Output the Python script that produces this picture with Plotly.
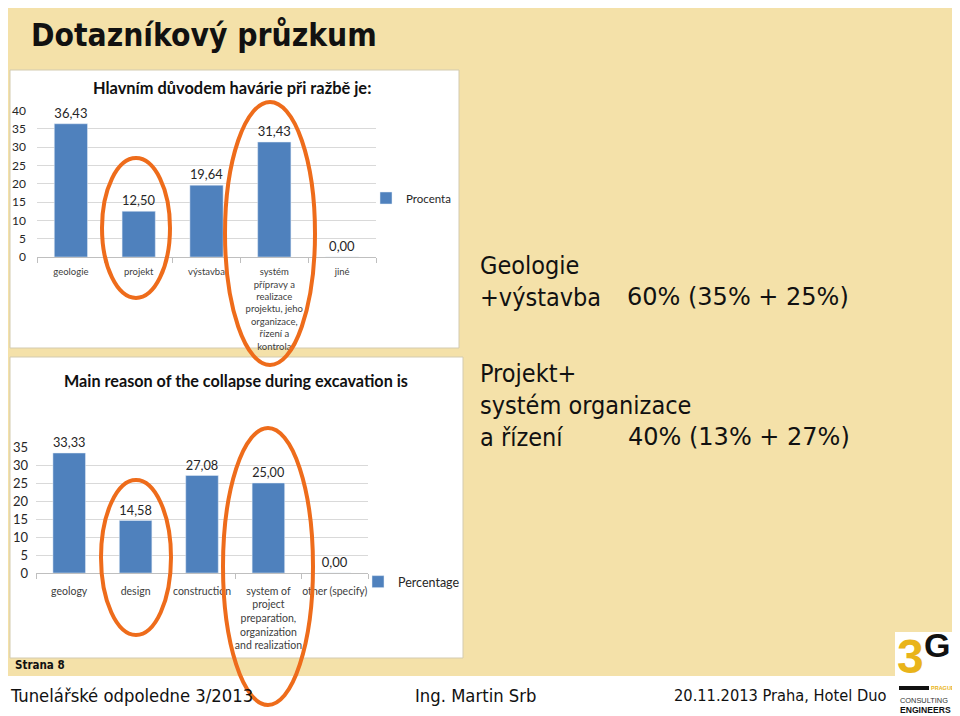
import plotly.graph_objects as go

# ---------------- data ----------------
cats_cz = ["geologie", "projekt", "výstavba",
           "systém<br>přípravy a<br>realizace<br>projektu, jeho<br>organizace,<br>řízení a<br>kontrola",
           "jiné"]
vals_cz = [36.43, 12.50, 19.64, 31.43, 0.00]
series_cz = "Procenta"
title_cz = "Hlavním důvodem havárie při ražbě je:"

cats_en = ["geology", "design", "construction",
           "system of<br>project<br>preparation,<br>organization<br>and realization",
           "other (specify)"]
vals_en = [33.33, 14.58, 27.08, 25.00, 0.00]
series_en = "Percentage"
title_en = "Main reason of the collapse during excavation is"

slide_title = "Dotazníkový průzkum"
notes = ["Geologie", "+výstavba", "60% (35% + 25%)",
         "Projekt+", "systém organizace", "a řízení", "40% (13% + 27%)"]
footer = ["Tunelářské odpoledne 3/2013", "Ing. Martin Srb", "20.11.2013 Praha, Hotel Duo"]

# ---------------- style ----------------
OFF = 8                      # page body margin of the browser
W, H = 960 - OFF, 716 - OFF  # figure fits exactly inside the window
BLUE = "#4F81BD"
BEIGE = "#F4E1A9"
ORANGE = "#EE6C1B"
GRID = "#D9D9D9"
CF = "Lato"
TAH = "DejaVu Sans Condensed, Liberation Sans"


def px(x):
    return (x - OFF) / W


def py(y):
    return 1 - (y - OFF) / H


fig = go.Figure()
fig.add_trace(go.Bar(x=cats_cz, y=vals_cz, name=series_cz, marker_color=BLUE,
                     texttemplate="%{y:.2f}", textposition="outside", cliponaxis=False,
                     textfont=dict(family=CF, size=13, color="#262626"),
                     xaxis="x", yaxis="y", legend="legend", showlegend=True))
fig.add_trace(go.Bar(x=cats_en, y=vals_en, name=series_en, marker_color=BLUE,
                     texttemplate="%{y:.2f}", textposition="outside", cliponaxis=False,
                     textfont=dict(family=CF, size=13, color="#262626"),
                     xaxis="x2", yaxis="y2", legend="legend2", showlegend=True))

xa = dict(type="category", showline=True, linecolor="#BFBFBF", ticks="outside",
          tickson="boundaries", ticklen=5, tickcolor="#BFBFBF", showgrid=False,
          tickangle=0, fixedrange=True, automargin=False)
ya = dict(showgrid=True, gridcolor=GRID, gridwidth=1, zeroline=False, showline=False,
          dtick=5, ticks="", fixedrange=True, automargin=False)

shapes = [
    dict(type="rect", xref="paper", yref="paper", x0=px(5), x1=px(955), y0=py(676), y1=py(0),
         fillcolor=BEIGE, line=dict(width=0), layer="below"),
    dict(type="rect", xref="paper", yref="paper", x0=px(10), x1=px(459), y0=py(348), y1=py(70),
         fillcolor="white", line=dict(color="#D3CBB0", width=1), layer="below"),
    dict(type="rect", xref="paper", yref="paper", x0=px(10), x1=px(463), y0=py(658), y1=py(357),
         fillcolor="white", line=dict(color="#D3CBB0", width=1), layer="below"),
    # logo box
    dict(type="rect", xref="paper", yref="paper", x0=px(895), x1=px(960), y0=py(716), y1=py(632),
         fillcolor="white", line=dict(width=0), layer="below"),
    dict(type="rect", xref="paper", yref="paper", x0=px(899), x1=px(929), y0=py(690), y1=py(686),
         fillcolor="#111111", line=dict(width=0), layer="above"),
    # highlight ellipses
    dict(type="circle", xref="paper", yref="paper", x0=px(102), x1=px(170), y0=py(298), y1=py(158),
         line=dict(color=ORANGE, width=4), layer="above"),
    dict(type="circle", xref="paper", yref="paper", x0=px(225), x1=px(315), y0=py(365), y1=py(102),
         line=dict(color=ORANGE, width=4), layer="above"),
    dict(type="circle", xref="paper", yref="paper", x0=px(101), x1=px(171), y0=py(635), y1=py(480),
         line=dict(color=ORANGE, width=4), layer="above"),
    dict(type="circle", xref="paper", yref="paper", x0=px(223), x1=px(313), y0=py(705), y1=py(428),
         line=dict(color=ORANGE, width=4), layer="above"),
]


def ann(text, x, y, size, family="Liberation Sans", color="#111111", xanchor="left", bold=False):
    if bold:
        text = "<b>" + text + "</b>"
    return dict(text=text, x=px(x), y=py(y), xref="paper", yref="paper", showarrow=False,
                xanchor=xanchor, yanchor="middle", borderpad=0,
                font=dict(family=family, size=size, color=color))


annotations = [
    ann(slide_title, 30, 35, 31.5, family=TAH, bold=True),
    ann(title_cz, 232, 87, 16.4, family=CF, color="#111111", xanchor="center", bold=True),
    ann(title_en, 236, 380, 16.2, family=CF, color="#111111", xanchor="center", bold=True),
    ann(notes[0], 479, 265, 25, family=TAH),
    ann(notes[1], 479, 297, 25, family=TAH),
    ann(notes[2], 626, 297, 24, family="DejaVu Sans"),
    ann(notes[3], 479, 373, 25, family=TAH),
    ann(notes[4], 479, 405, 25, family=TAH),
    ann(notes[5], 479, 437, 25, family=TAH),
    ann(notes[6], 627, 437, 24, family="DejaVu Sans"),
    ann("Strana 8", 14, 665, 11.5, family=TAH, bold=True),
    ann(footer[0], 9, 695, 18.3, family=TAH),
    ann(footer[1], 414, 695, 18.3, family=TAH),
    ann(footer[2], 673, 695, 16.3, family=TAH),
    # logo
    ann("3", 896, 656, 48, color="#E9B41A", bold=True),
    ann("G", 923, 645, 34, color="#111111", bold=True),
    ann("PRAGUE", 930, 688, 5.5, color="#E9B41A", bold=True),
    ann("CONSULTING", 899, 700, 7.4, color="#333333"),
    ann("ENGINEERS", 899, 710, 8.6, color="#111111", bold=True),
]

fig.update_layout(
    width=W, height=H, margin=dict(l=0, r=0, t=0, b=0, pad=0, autoexpand=False),
    paper_bgcolor="white", plot_bgcolor="rgba(0,0,0,0)",
    separators=",.", bargap=0.51,
    xaxis=dict(xa, domain=[px(37), px(376)], anchor="y", ticklabelstandoff=6,
               tickfont=dict(family=CF, size=9.5, color="#404040")),
    yaxis=dict(ya, domain=[py(257), py(110.7)], anchor="x", range=[0, 40],
               ticklabelstandoff=10, tickfont=dict(family=CF, size=12, color="#262626")),
    xaxis2=dict(xa, domain=[px(36), px(368)], anchor="y2", ticklabelstandoff=8,
                tickfont=dict(family=CF, size=10.5, color="#404040")),
    yaxis2=dict(ya, domain=[py(573), py(447)], anchor="x2", range=[0, 35],
                ticklabelstandoff=7, tickfont=dict(family=CF, size=13, color="#262626")),
    legend=dict(x=px(366), y=py(198), xanchor="left", yanchor="middle",
                bgcolor="rgba(0,0,0,0)", font=dict(family=CF, size=11.5, color="#262626")),
    legend2=dict(x=px(358), y=py(582), xanchor="left", yanchor="middle",
                 bgcolor="rgba(0,0,0,0)", font=dict(family=CF, size=12.5, color="#262626")),
    shapes=shapes, annotations=annotations,
)

fig.write_html("out.html", config={"displayModeBar": False})
